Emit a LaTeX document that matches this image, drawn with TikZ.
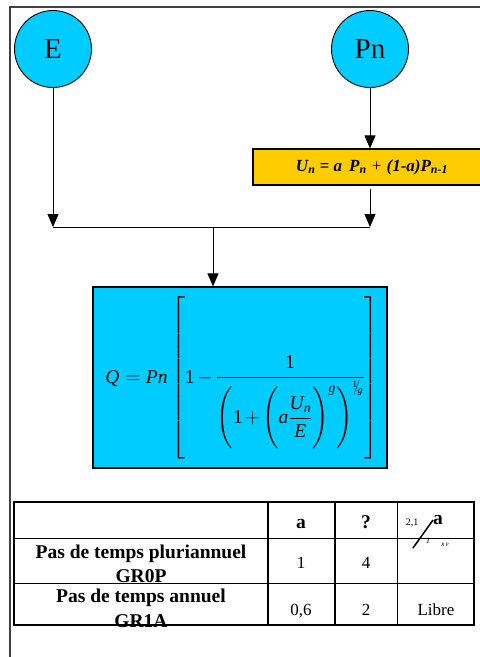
\documentclass[tikz,border=0pt]{standalone}
\usepackage{amsmath}
\usepackage{fontspec}
\setmainfont{Liberation Serif}
\usetikzlibrary{arrows.meta}

\definecolor{skyfill}{RGB}{0,204,255}
\definecolor{goldfill}{RGB}{255,204,0}
\newcommand\vi[1]{\textit{#1}}

\tikzset{
  inputcircle/.style={circle,draw,line width=0.9pt,fill=skyfill,minimum size=77pt,inner sep=0pt,font=\fontsize{29}{32}\selectfont},
  flowline/.style={line width=1pt},
  flowarrow/.style={line width=1pt,-{Triangle[width=11pt,length=13pt]}},
  framebox/.style={draw,line width=1.2pt,inner sep=0pt},
  celltext/.style={anchor=base,inner sep=0pt,font=\fontsize{17}{20}\selectfont},
  cellhead/.style={celltext,font=\fontsize{19.5}{22}\selectfont\bfseries},
  thickrule/.style={line width=1.6pt},
  thinrule/.style={line width=0.8pt}
}

\begin{document}
\begin{tikzpicture}[x=1pt,y=-1pt]
\useasboundingbox (0,0) rectangle (480,657);
\clip (0,0) rectangle (480,657);
% outer frame
\draw[line width=1.3pt,black!75] (10,657) -- (10,7) -- (490,7);

% inputs
\node[inputcircle] (E) at (53,49) {E};
\node[inputcircle] (Pn) at (370,49) {Pn};

% filtered rainfall
\node[framebox,fill=goldfill,minimum width=238pt,minimum height=36pt,
  font=\fontsize{17}{20}\selectfont\bfseries\itshape] (un) at (372,167)
  {U\textsubscript{n} = a\, P\textsubscript{n} \textmd{+} (1-a)P\textsubscript{n-1}};

% connectors
\coordinate (jl) at (53,227);
\coordinate (jr) at (370,227);
\coordinate (jm) at (213,227);
\coordinate (unout) at (370,189);
\draw[flowarrow] (E.south) -- (jl);
\draw[flowarrow] (Pn.south) -- (Pn.south |- un.north);
\draw[flowarrow] (unout) -- (jr);
\draw[flowline] (jl) -- (jr);

% runoff box
\node[framebox,fill=skyfill,minimum width=294pt,minimum height=181pt] (Q) at (240,377.5) {};
\draw[flowarrow] (jm) -- (jm |- Q.north);
\node[anchor=base,inner sep=0pt,font=\fontsize{19.5}{24}\selectfont] (formula) at (242,383)
  {\medmuskip=2mu $\vi{Q} = \vi{Pn}\left[\vrule height 83pt depth 74pt width 0pt\textrm{1}-\dfrac{\textrm{1}}{\left(\vrule height 37pt depth 27pt width 0pt\textrm{1}+\left(\vrule height 32pt depth 24pt width 0pt\vi{a}\dfrac{\vi{U}_{\vi{n}}}{\vi{E}}\right)^{\vi{g}}\right)^{{}^{\textrm{1}}\!\!/\!{}_{\vi{g}}}}\right]$};

% parameter table
\draw[thickrule] (14,502) rectangle (474,625);
\draw[thinrule] (14,538) -- (474,538);
\draw[thinrule] (14,583) -- (474,583);
\draw[thickrule] (268,502) -- (268,625);
\draw[thickrule] (335,502) -- (335,625);
\draw[thinrule] (397,502) -- (397,625);

\node[cellhead] (ha) at (301,528) {a};
\node[cellhead] (hg) at (366,528) {?};
\node[celltext,font=\fontsize{10}{12}\selectfont] (hk) at (412,525) {2,1};
\node[cellhead] (hb) at (438,524) {a};
\node[celltext,font=\fontsize{8}{10}\selectfont\itshape] (hr) at (428,543) {1};
\node[celltext,font=\fontsize{5}{6}\selectfont\itshape] (hs) at (445,546) {R P};
\draw[line width=1.5pt] (413,548) -- (433,520);

\node[cellhead] (r1a) at (141,558) {Pas de temps pluriannuel};
\node[cellhead] (r1b) at (141,582) {GR0P};
\node[celltext] (r1c) at (301,568) {1};
\node[celltext] (r1d) at (366,568) {4};

\node[cellhead] (r2a) at (141,602) {Pas de temps annuel};
\node[cellhead] (r2b) at (141,627) {GR1A};
\node[celltext] (r2c) at (301,615) {0,6};
\node[celltext] (r2d) at (366,615) {2};
\node[celltext] (r2e) at (436,615) {Libre};
\draw[thickrule] (14,625) -- (474,625);
\end{tikzpicture}
\end{document}
